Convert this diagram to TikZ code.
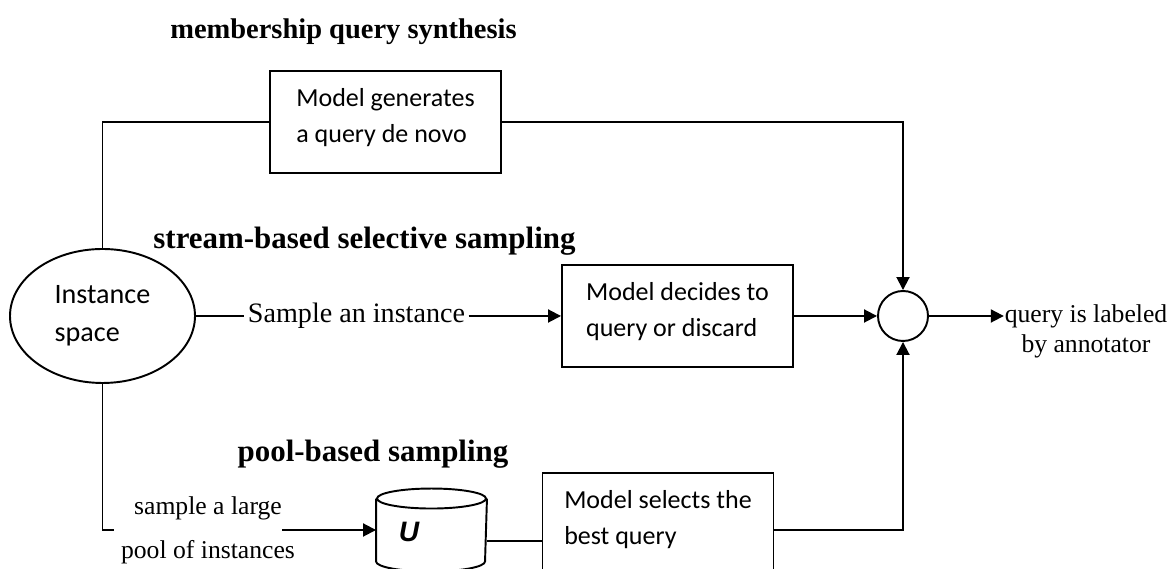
\documentclass[tikz,border=0pt]{standalone}
\usepackage{fontspec}
\setmainfont{Liberation Serif}
\newfontfamily\boxfont{Carlito}
\newfontfamily\ufont{Liberation Sans}
\usepackage{tikz}
\usetikzlibrary{
	arrows.meta,
	calc,
	positioning,
	shapes.geometric
}

\begin{document}
\begin{tikzpicture}[
		line width=1.1pt,
		>={Triangle[length=0.26cm,width=0.26cm]},
		head/.style={font=\bfseries\fontsize{17.6}{20}\selectfont},
		modelbox/.style={draw, minimum width=4.62cm, minimum height=2.04cm,
			text depth=0.25cm, align=left,
			font=\boxfont\fontsize{14.8}{20.5}\selectfont},
		plain/.style={font=\fontsize{14.6}{17}\selectfont}
	]
		\useasboundingbox (0,0) rectangle (23.4,11.38);
		\clip (0,0) rectangle (23.4,11.38);
		% headings of the three scenarios
		\node[head, font=\bfseries\fontsize{16.2}{20}\selectfont] (synhead) at (6.87,10.74) {membership query synthesis};
		\node[head] (streamhead) at (7.29,6.56) {stream-based selective sampling};
		\node[head] (poolhead) at (7.46,2.30) {pool-based sampling};
		% blocks
		\node[draw, ellipse, minimum width=3.7cm, minimum height=2.68cm, align=left,
			font=\boxfont\fontsize{16}{21.6}\selectfont] (inst) at (2.05,5.06) {Instance\\space};
		\node[modelbox] (gen) at (7.71,8.94) {Model generates\\a query de novo};
		\node[modelbox] (decide) at (13.55,5.06) {Model decides to\\query or discard};
		\node[modelbox] (select) at (13.16,0.90) {Model selects the\\best query};
		\node[draw, circle, minimum size=1cm, inner sep=0pt] (sum) at (18.06,5.06) {};
		% the pool U, drawn as a drum
		\node[inner sep=0pt, minimum width=2.18cm, minimum height=1.62cm] (pool) at (8.63,0.78) {};
		\draw ([yshift=-0.2cm]pool.north west) -- ([yshift=0.2cm]pool.south west)
			arc[start angle=180, end angle=360, x radius=1.09cm, y radius=0.2cm]
			-- ([yshift=-0.2cm]pool.north east);
		\draw ([yshift=-0.2cm]pool.north) ellipse [x radius=1.09cm, y radius=0.2cm];
		\node[font=\ufont\bfseries\itshape\fontsize{16}{16}\selectfont] (u) at (8.18,0.74) {U};
		% edge texts
		\node[font=\fontsize{16}{18}\selectfont, inner sep=1.5pt] (sampone) at (7.13,5.06) {Sample an instance};
		\node[plain, align=center, font=\fontsize{14.6}{25}\selectfont] (take) at (4.16,0.78) {sample a large\\pool of instances};
		\node[plain, align=center, inner sep=0pt] (annot) at (21.72,4.76) {query is labeled\\by annotator};
		\coordinate (takeend) at (5.64,0.78);
		% connectors
		\draw (inst.north) |- (gen.west);
		\draw[->] (gen.east) -| (sum.north);
		\draw (inst.east) -- (sampone.west);
		\draw[->] (sampone.east) -- (decide.west);
		\draw[->] (decide.east) -- (sum.west);
		\draw[->] (sum.east) -- (annot.west |- sum.east);
		\draw (inst.south) |- (take.west);
		\draw[->] (takeend) -- (pool.west);
		\draw ([yshift=-0.22cm]pool.east) -- ([yshift=-0.22cm]pool.east -| select.west);
		\draw[->] (select.east |- pool.east) -| (sum.south);
	\end{tikzpicture}
\end{document}
